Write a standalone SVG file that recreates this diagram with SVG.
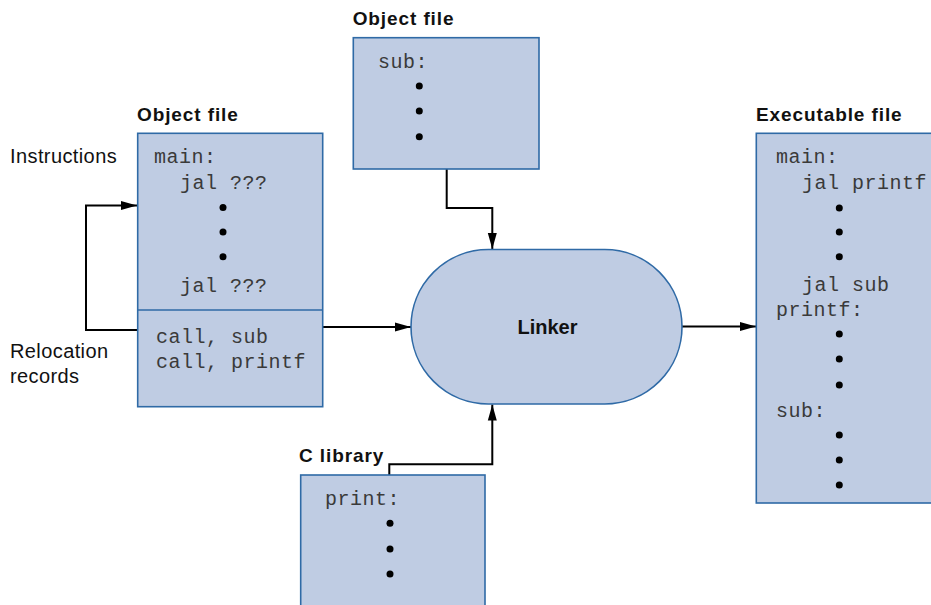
<svg xmlns="http://www.w3.org/2000/svg" width="931" height="605" viewBox="0 0 931 605">
<style>
.box{fill:#bfcce3;stroke:#2f6aa6;stroke-width:1.6}
.lbl{font-family:"Liberation Sans",Arial,sans-serif;font-size:20px;fill:#111;letter-spacing:0.4px}
.ttl{font-family:"Liberation Sans",Arial,sans-serif;font-size:19px;font-weight:bold;fill:#111;letter-spacing:0.9px}
.code{font-family:"Liberation Mono","DejaVu Sans Mono",monospace;font-size:20px;fill:#3a3a3a;letter-spacing:0.5px}
.dot{fill:#000}
.con{fill:none;stroke:#000;stroke-width:2;marker-end:url(#arr)}
</style>
<defs>
<marker id="arr" markerUnits="userSpaceOnUse" markerWidth="16" markerHeight="10" refX="16" refY="5" orient="auto">
<path d="M0,0.5 L16,5 L0,9.5 z" fill="#000"/>
</marker>
</defs>
<rect width="931" height="605" fill="#fff"/>

<g id="connectors">
<path class="con" d="M137,330 H86 V205.5 H137"/>
<path class="con" d="M323,327 H411"/>
<path class="con" d="M446.7,169 V208 H492.3 V249"/>
<path class="con" d="M389.3,475 V464.3 H492.3 V404.5"/>
<path class="con" d="M682,326.5 H756"/>
</g>

<g id="labels">
<text class="lbl" x="10" y="163">Instructions</text>
<text class="lbl" x="10" y="358">Relocation</text>
<text class="lbl" x="10" y="383">records</text>
</g>

<g id="objfile-main">
<text class="ttl" x="137" y="121">Object file</text>
<rect class="box" x="137.7" y="133.3" width="185" height="273.4"/>
<line x1="137.7" y1="310" x2="322.7" y2="310" stroke="#2f6aa6" stroke-width="1.6"/>
<text class="code" x="154" y="163">main:</text>
<text class="code" x="180" y="189">jal ???</text>
<circle class="dot" cx="223" cy="207.5" r="3.5"/>
<circle class="dot" cx="223" cy="232" r="3.5"/>
<circle class="dot" cx="223" cy="256.8" r="3.5"/>
<text class="code" x="180" y="292">jal ???</text>
<text class="code" x="156" y="343">call, sub</text>
<text class="code" x="156" y="368">call, printf</text>
</g>

<g id="objfile-sub">
<text class="ttl" x="352.7" y="25">Object file</text>
<rect class="box" x="353.3" y="37.7" width="185.7" height="131.3"/>
<text class="code" x="378" y="68">sub:</text>
<circle class="dot" cx="419.3" cy="86" r="3.5"/>
<circle class="dot" cx="419.3" cy="111" r="3.5"/>
<circle class="dot" cx="419.3" cy="136.7" r="3.5"/>
</g>

<g id="linker">
<rect class="box" x="411" y="249.5" width="271" height="154.5" rx="77.25" ry="77.25"/>
<text x="547.5" y="334" text-anchor="middle" font-family="Liberation Sans,Arial,sans-serif" font-size="20" font-weight="bold" fill="#111">Linker</text>
</g>

<g id="clibrary">
<text class="ttl" x="299" y="462">C library</text>
<rect class="box" x="300.7" y="475" width="184.3" height="140"/>
<text class="code" x="325" y="505">print:</text>
<circle class="dot" cx="390" cy="523.3" r="3.5"/>
<circle class="dot" cx="390" cy="549" r="3.5"/>
<circle class="dot" cx="390" cy="574" r="3.5"/>
</g>

<g id="executable">
<text class="ttl" x="756" y="121">Executable file</text>
<rect class="box" x="756.3" y="133.3" width="200" height="369.7"/>
<text class="code" x="776" y="163">main:</text>
<text class="code" x="802" y="189">jal printf</text>
<circle class="dot" cx="839.3" cy="208" r="3.5"/>
<circle class="dot" cx="839.3" cy="232" r="3.5"/>
<circle class="dot" cx="839.3" cy="256.7" r="3.5"/>
<text class="code" x="802" y="291">jal sub</text>
<text class="code" x="776" y="316">printf:</text>
<circle class="dot" cx="839.3" cy="334" r="3.5"/>
<circle class="dot" cx="839.3" cy="359" r="3.5"/>
<circle class="dot" cx="839.3" cy="385" r="3.5"/>
<text class="code" x="776" y="417">sub:</text>
<circle class="dot" cx="839.3" cy="435" r="3.5"/>
<circle class="dot" cx="839.3" cy="460" r="3.5"/>
<circle class="dot" cx="839.3" cy="485" r="3.5"/>
</g>
</svg>
